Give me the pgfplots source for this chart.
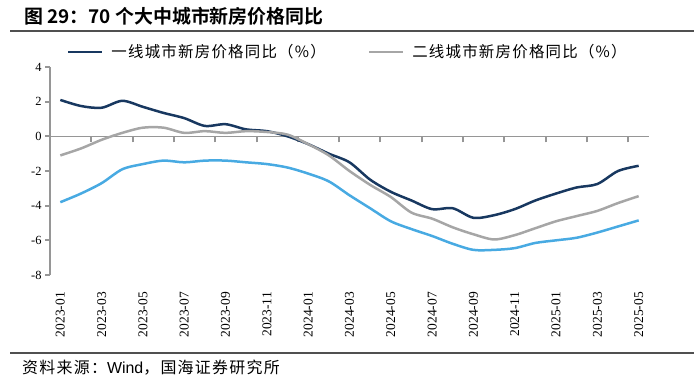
\documentclass[border=0pt]{standalone}
\usepackage{fontspec}
\usepackage{pgfplots}
\usepackage{pgfplotstable}
\pgfplotsset{compat=1.18}
\setmainfont{Liberation Serif}
\newfontfamily\cjk{Noto Sans CJK SC}[BoldFont={Noto Sans CJK SC Bold}]
\newfontfamily\cjks{Noto Sans CJK SC}[LetterSpace=8]
\newfontfamily\lsans{Liberation Sans}
\definecolor{navy}{RGB}{24,56,96}
\definecolor{tiertwo}{RGB}{166,166,166}
\definecolor{tierthree}{RGB}{72,170,226}
\definecolor{axgray}{RGB}{150,150,150}
\definecolor{rulegray}{RGB}{80,80,80}

\pgfplotstableread{
m t1 t2 t3
0 2.10 -1.10 -3.80
1 1.75 -0.70 -3.30
2 1.65 -0.20 -2.70
3 2.05 0.20 -1.90
4 1.70 0.50 -1.60
5 1.35 0.50 -1.40
6 1.05 0.20 -1.50
7 0.60 0.30 -1.40
8 0.70 0.20 -1.40
9 0.40 0.30 -1.50
10 0.30 0.25 -1.60
11 0.00 0.10 -1.80
12 -0.45 -0.45 -2.15
13 -1.00 -1.10 -2.60
14 -1.50 -2.00 -3.40
15 -2.50 -2.80 -4.15
16 -3.20 -3.50 -4.90
17 -3.70 -4.40 -5.35
18 -4.20 -4.75 -5.75
19 -4.15 -5.25 -6.20
20 -4.70 -5.65 -6.55
21 -4.55 -5.95 -6.55
22 -4.20 -5.70 -6.45
23 -3.70 -5.30 -6.15
24 -3.30 -4.90 -6.00
25 -2.95 -4.60 -5.85
26 -2.75 -4.30 -5.55
27 -2.00 -3.85 -5.20
28 -1.70 -3.45 -4.85
}\datatable

\begin{document}
\begin{tikzpicture}
\path[use as bounding box] (0bp,0bp) rectangle (700bp,-384bp);
% title rule: an axis whose only visible part is its x axis line
\begin{axis}[
  at={(10bp,-31bp)}, anchor=south west,
  scale only axis, width=684bp, height=2bp,
  xmin=0, xmax=1, ymin=0, ymax=1,
  axis x line=bottom, axis y line=none,
  x axis line style={rulegray, line width=2bp, -},
  xtick=\empty, ytick=\empty,
]
\end{axis}
% bottom rule
\begin{axis}[
  at={(10bp,-353bp)}, anchor=south west,
  scale only axis, width=684bp, height=2bp,
  xmin=0, xmax=1, ymin=0, ymax=1,
  axis x line=bottom, axis y line=none,
  x axis line style={rulegray, line width=2bp, -},
  xtick=\empty, ytick=\empty,
]
\end{axis}
% zero line with its own ticks (drawn first, under the data)
\begin{axis}[
  at={(50bp,-275bp)}, anchor=south west,
  scale only axis, width=599bp, height=208bp,
  xmin=-0.5, xmax=28.5, ymin=-8, ymax=4,
  axis x line=middle, axis y line=none,
  x axis line style={axgray, line width=1.5bp, -},
  xtick={1.5,3.5,...,27.5}, xticklabels={},
  xtick style={axgray, line width=2bp},
  tick align=outside, major tick length=6bp,
  ytick=\empty,
]
\end{axis}
\begin{axis}[
  at={(50bp,-275bp)}, anchor=south west,
  scale only axis, width=599bp, height=208bp,
  xmin=-0.5, xmax=28.5, ymin=-8, ymax=4,
  axis x line*=bottom, axis y line*=left,
  x axis line style={draw=none},
  y axis line style={axgray, line width=1.5bp, -},
  xtick={0,2,...,28},
  xticklabels={2023-01,2023-03,2023-05,2023-07,2023-09,2023-11,2024-01,2024-03,2024-05,2024-07,2024-09,2024-11,2025-01,2025-03,2025-05},
  xtick style={draw=none},
  xticklabel style={yshift=-12bp, rotate=90, anchor=east, inner sep=0pt, font=\fontsize{13.5}{15}\selectfont},
  ytick={-8,-6,...,4},
  ytick style={axgray, line width=2bp},
  tick align=outside, major tick length=5bp,
  yticklabel style={font=\fontsize{12.5}{14}\selectfont},
  /pgf/number format/assume math mode=true,
  legend columns=2,
  legend style={draw=none, fill=none, inner sep=0pt, anchor=west,
    at={(0.028,1.072)},
    font=\cjks\fontsize{15.5}{17}\selectfont,
    /tikz/every odd column/.append style={column sep=6bp},
    /tikz/every even column/.append style={column sep=40bp}},
  legend image code/.code={\draw[#1] (0bp,0bp) -- (34bp,0bp);},
  every axis plot/.append style={line width=2.5bp, smooth},
  clip=false,
]
\addplot[navy] table[x=m, y=t1] {\datatable};
\addlegendentry{一线城市新房价格同比（\%）}
\addplot[tiertwo] table[x=m, y=t2] {\datatable};
\addlegendentry{二线城市新房价格同比（\%）}
\addplot[tierthree, forget plot] table[x=m, y=t3] {\datatable};
\end{axis}
% title
\node[anchor=west, inner sep=0pt] at (24bp,-16bp) {\cjk\bfseries\fontsize{19}{22}\selectfont 图 29：70 个大中城市新房价格同比};
\node[anchor=west, inner sep=0pt] at (22bp,-368bp) {\cjks\fontsize{16}{18}\selectfont 资料来源：{\lsans Wind}，国海证券研究所};
\end{tikzpicture}
\end{document}
